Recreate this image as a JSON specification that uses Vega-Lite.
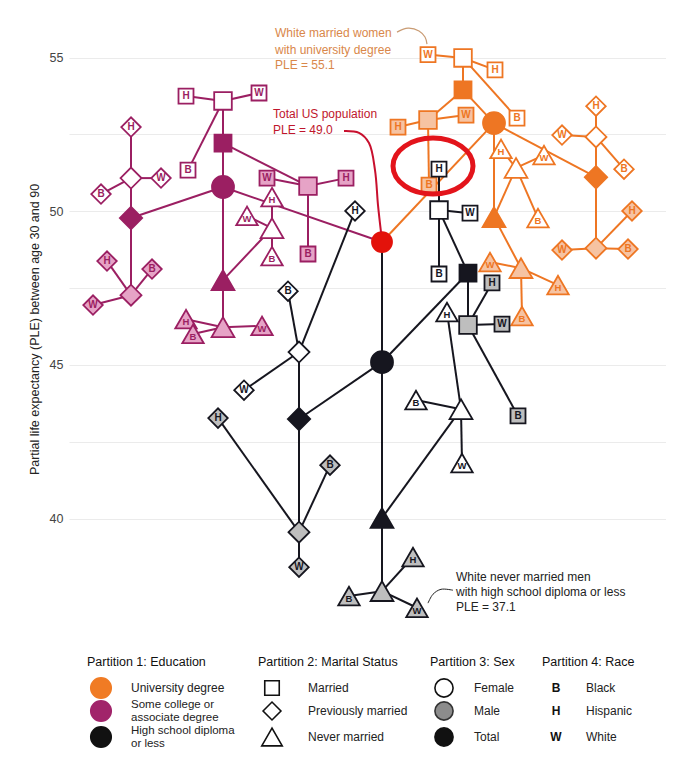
{
  "$schema": "https://vega.github.io/schema/vega-lite/v6.json",
  "padding": {"left": 28, "top": 10, "right": 0, "bottom": 0},
  "spacing": 0,
  "config": {"view": {"stroke": null}, "font": "Liberation Sans"},
  "resolve": {"scale": {"x": "independent", "y": "independent", "fill": "independent", "stroke": "independent", "shape": "independent", "size": "independent", "color": "independent"}},
  "datasets": {
    "nodes": [
      {"id": "R", "parent": null, "edu": "T", "marital": "none", "sex": "Total", "race": "", "level": 0, "x": 381, "ple": 49.0},
      {"id": "U", "parent": "R", "edu": "U", "marital": "none", "sex": "Total", "race": "", "level": 1, "x": 493, "ple": 52.87},
      {"id": "S", "parent": "R", "edu": "S", "marital": "none", "sex": "Total", "race": "", "level": 1, "x": 222, "ple": 50.79},
      {"id": "H", "parent": "R", "edu": "H", "marital": "none", "sex": "Total", "race": "", "level": 1, "x": 381, "ple": 45.09},
      {"id": "UM", "parent": "U", "edu": "U", "marital": "M", "sex": "Total", "race": "", "level": 2, "x": 462, "ple": 53.95},
      {"id": "UP", "parent": "U", "edu": "U", "marital": "P", "sex": "Total", "race": "", "level": 2, "x": 595, "ple": 51.11},
      {"id": "UN", "parent": "U", "edu": "U", "marital": "N", "sex": "Total", "race": "", "level": 2, "x": 493, "ple": 49.81},
      {"id": "SM", "parent": "S", "edu": "S", "marital": "M", "sex": "Total", "race": "", "level": 2, "x": 222, "ple": 52.22},
      {"id": "SP", "parent": "S", "edu": "S", "marital": "P", "sex": "Total", "race": "", "level": 2, "x": 130, "ple": 49.78},
      {"id": "SN", "parent": "S", "edu": "S", "marital": "N", "sex": "Total", "race": "", "level": 2, "x": 222, "ple": 47.76},
      {"id": "HM", "parent": "H", "edu": "H", "marital": "M", "sex": "Total", "race": "", "level": 2, "x": 467, "ple": 47.99},
      {"id": "HP", "parent": "H", "edu": "H", "marital": "P", "sex": "Total", "race": "", "level": 2, "x": 298, "ple": 43.24},
      {"id": "HN", "parent": "H", "edu": "H", "marital": "N", "sex": "Total", "race": "", "level": 2, "x": 381, "ple": 40.02},
      {"id": "UMF", "parent": "UM", "edu": "U", "marital": "M", "sex": "Female", "race": "", "level": 3, "x": 462, "ple": 54.99},
      {"id": "UMM", "parent": "UM", "edu": "U", "marital": "M", "sex": "Male", "race": "", "level": 3, "x": 427, "ple": 52.97},
      {"id": "UPF", "parent": "UP", "edu": "U", "marital": "P", "sex": "Female", "race": "", "level": 3, "x": 595, "ple": 52.42},
      {"id": "UPM", "parent": "UP", "edu": "U", "marital": "P", "sex": "Male", "race": "", "level": 3, "x": 595, "ple": 48.80},
      {"id": "UNF", "parent": "UN", "edu": "U", "marital": "N", "sex": "Female", "race": "", "level": 3, "x": 515, "ple": 51.41},
      {"id": "UNM", "parent": "UN", "edu": "U", "marital": "N", "sex": "Male", "race": "", "level": 3, "x": 520, "ple": 48.15},
      {"id": "SMF", "parent": "SM", "edu": "S", "marital": "M", "sex": "Female", "race": "", "level": 3, "x": 222, "ple": 53.59},
      {"id": "SMM", "parent": "SM", "edu": "S", "marital": "M", "sex": "Male", "race": "", "level": 3, "x": 307, "ple": 50.82},
      {"id": "SPF", "parent": "SP", "edu": "S", "marital": "P", "sex": "Female", "race": "", "level": 3, "x": 130, "ple": 51.08},
      {"id": "SPM", "parent": "SP", "edu": "S", "marital": "P", "sex": "Male", "race": "", "level": 3, "x": 130, "ple": 47.27},
      {"id": "SNF", "parent": "SN", "edu": "S", "marital": "N", "sex": "Female", "race": "", "level": 3, "x": 271, "ple": 49.45},
      {"id": "SNM", "parent": "SN", "edu": "S", "marital": "N", "sex": "Male", "race": "", "level": 3, "x": 222, "ple": 46.23},
      {"id": "HMF", "parent": "HM", "edu": "H", "marital": "M", "sex": "Female", "race": "", "level": 3, "x": 438, "ple": 50.04},
      {"id": "HMM", "parent": "HM", "edu": "H", "marital": "M", "sex": "Male", "race": "", "level": 3, "x": 467, "ple": 46.30},
      {"id": "HPF", "parent": "HP", "edu": "H", "marital": "P", "sex": "Female", "race": "", "level": 3, "x": 298, "ple": 45.42},
      {"id": "HPM", "parent": "HP", "edu": "H", "marital": "P", "sex": "Male", "race": "", "level": 3, "x": 298, "ple": 39.56},
      {"id": "HNF", "parent": "HN", "edu": "H", "marital": "N", "sex": "Female", "race": "", "level": 3, "x": 460, "ple": 43.56},
      {"id": "HNM", "parent": "HN", "edu": "H", "marital": "N", "sex": "Male", "race": "", "level": 3, "x": 381, "ple": 37.64},
      {"id": "UMFW", "parent": "UMF", "edu": "U", "marital": "M", "sex": "Female", "race": "W", "level": 4, "x": 427, "ple": 55.1},
      {"id": "UMFH", "parent": "UMF", "edu": "U", "marital": "M", "sex": "Female", "race": "H", "level": 4, "x": 494, "ple": 54.60},
      {"id": "UMFB", "parent": "UMF", "edu": "U", "marital": "M", "sex": "Female", "race": "B", "level": 4, "x": 516, "ple": 53.03},
      {"id": "UMMH", "parent": "UMM", "edu": "U", "marital": "M", "sex": "Male", "race": "H", "level": 4, "x": 397, "ple": 52.74},
      {"id": "UMMW", "parent": "UMM", "edu": "U", "marital": "M", "sex": "Male", "race": "W", "level": 4, "x": 465, "ple": 53.13},
      {"id": "UMMB", "parent": "UMM", "edu": "U", "marital": "M", "sex": "Male", "race": "B", "level": 4, "x": 428, "ple": 50.85},
      {"id": "UPFH", "parent": "UPF", "edu": "U", "marital": "P", "sex": "Female", "race": "H", "level": 4, "x": 595, "ple": 53.42},
      {"id": "UPFW", "parent": "UPF", "edu": "U", "marital": "P", "sex": "Female", "race": "W", "level": 4, "x": 561, "ple": 52.48},
      {"id": "UPFB", "parent": "UPF", "edu": "U", "marital": "P", "sex": "Female", "race": "B", "level": 4, "x": 623, "ple": 51.37},
      {"id": "UPMW", "parent": "UPM", "edu": "U", "marital": "P", "sex": "Male", "race": "W", "level": 4, "x": 561, "ple": 48.74},
      {"id": "UPMB", "parent": "UPM", "edu": "U", "marital": "P", "sex": "Male", "race": "B", "level": 4, "x": 627, "ple": 48.77},
      {"id": "UPMH", "parent": "UPM", "edu": "U", "marital": "P", "sex": "Male", "race": "H", "level": 4, "x": 631, "ple": 50.01},
      {"id": "UNFH", "parent": "UNF", "edu": "U", "marital": "N", "sex": "Female", "race": "H", "level": 4, "x": 500, "ple": 52.03},
      {"id": "UNFW", "parent": "UNF", "edu": "U", "marital": "N", "sex": "Female", "race": "W", "level": 4, "x": 543, "ple": 51.83},
      {"id": "UNFB", "parent": "UNF", "edu": "U", "marital": "N", "sex": "Female", "race": "B", "level": 4, "x": 537, "ple": 49.78},
      {"id": "UNMW", "parent": "UNM", "edu": "U", "marital": "N", "sex": "Male", "race": "W", "level": 4, "x": 489, "ple": 48.35},
      {"id": "UNMH", "parent": "UNM", "edu": "U", "marital": "N", "sex": "Male", "race": "H", "level": 4, "x": 557, "ple": 47.60},
      {"id": "UNMB", "parent": "UNM", "edu": "U", "marital": "N", "sex": "Male", "race": "B", "level": 4, "x": 521, "ple": 46.59},
      {"id": "SMFH", "parent": "SMF", "edu": "S", "marital": "M", "sex": "Female", "race": "H", "level": 4, "x": 185, "ple": 53.75},
      {"id": "SMFW", "parent": "SMF", "edu": "S", "marital": "M", "sex": "Female", "race": "W", "level": 4, "x": 258, "ple": 53.85},
      {"id": "SMFB", "parent": "SMF", "edu": "S", "marital": "M", "sex": "Female", "race": "B", "level": 4, "x": 187, "ple": 51.34},
      {"id": "SMMW", "parent": "SMM", "edu": "S", "marital": "M", "sex": "Male", "race": "W", "level": 4, "x": 266, "ple": 51.08},
      {"id": "SMMH", "parent": "SMM", "edu": "S", "marital": "M", "sex": "Male", "race": "H", "level": 4, "x": 345, "ple": 51.08},
      {"id": "SMMB", "parent": "SMM", "edu": "S", "marital": "M", "sex": "Male", "race": "B", "level": 4, "x": 307, "ple": 48.61},
      {"id": "SPFH", "parent": "SPF", "edu": "S", "marital": "P", "sex": "Female", "race": "H", "level": 4, "x": 130, "ple": 52.74},
      {"id": "SPFW", "parent": "SPF", "edu": "S", "marital": "P", "sex": "Female", "race": "W", "level": 4, "x": 160, "ple": 51.08},
      {"id": "SPFB", "parent": "SPF", "edu": "S", "marital": "P", "sex": "Female", "race": "B", "level": 4, "x": 100, "ple": 50.56},
      {"id": "SPMH", "parent": "SPM", "edu": "S", "marital": "P", "sex": "Male", "race": "H", "level": 4, "x": 106, "ple": 48.38},
      {"id": "SPMB", "parent": "SPM", "edu": "S", "marital": "P", "sex": "Male", "race": "B", "level": 4, "x": 151, "ple": 48.12},
      {"id": "SPMW", "parent": "SPM", "edu": "S", "marital": "P", "sex": "Male", "race": "W", "level": 4, "x": 92, "ple": 46.95},
      {"id": "SNFH", "parent": "SNF", "edu": "S", "marital": "N", "sex": "Female", "race": "H", "level": 4, "x": 271, "ple": 50.46},
      {"id": "SNFW", "parent": "SNF", "edu": "S", "marital": "N", "sex": "Female", "race": "W", "level": 4, "x": 246, "ple": 49.85},
      {"id": "SNFB", "parent": "SNF", "edu": "S", "marital": "N", "sex": "Female", "race": "B", "level": 4, "x": 271, "ple": 48.54},
      {"id": "SNMH", "parent": "SNM", "edu": "S", "marital": "N", "sex": "Male", "race": "H", "level": 4, "x": 185, "ple": 46.49},
      {"id": "SNMB", "parent": "SNM", "edu": "S", "marital": "N", "sex": "Male", "race": "B", "level": 4, "x": 192, "ple": 46.01},
      {"id": "SNMW", "parent": "SNM", "edu": "S", "marital": "N", "sex": "Male", "race": "W", "level": 4, "x": 261, "ple": 46.27},
      {"id": "HMFH", "parent": "HMF", "edu": "H", "marital": "M", "sex": "Female", "race": "H", "level": 4, "x": 438, "ple": 51.37},
      {"id": "HMFW", "parent": "HMF", "edu": "H", "marital": "M", "sex": "Female", "race": "W", "level": 4, "x": 469, "ple": 49.94},
      {"id": "HMFB", "parent": "HMF", "edu": "H", "marital": "M", "sex": "Female", "race": "B", "level": 4, "x": 438, "ple": 47.96},
      {"id": "HMMH", "parent": "HMM", "edu": "H", "marital": "M", "sex": "Male", "race": "H", "level": 4, "x": 491, "ple": 47.67},
      {"id": "HMMW", "parent": "HMM", "edu": "H", "marital": "M", "sex": "Male", "race": "W", "level": 4, "x": 501, "ple": 46.33},
      {"id": "HMMB", "parent": "HMM", "edu": "H", "marital": "M", "sex": "Male", "race": "B", "level": 4, "x": 517, "ple": 43.34},
      {"id": "HPFB", "parent": "HPF", "edu": "H", "marital": "P", "sex": "Female", "race": "B", "level": 4, "x": 287, "ple": 47.40},
      {"id": "HPFH", "parent": "HPF", "edu": "H", "marital": "P", "sex": "Female", "race": "H", "level": 4, "x": 354, "ple": 50.01},
      {"id": "HPFW", "parent": "HPF", "edu": "H", "marital": "P", "sex": "Female", "race": "W", "level": 4, "x": 243, "ple": 44.18},
      {"id": "HPMH", "parent": "HPM", "edu": "H", "marital": "P", "sex": "Male", "race": "H", "level": 4, "x": 217, "ple": 43.27},
      {"id": "HPMB", "parent": "HPM", "edu": "H", "marital": "P", "sex": "Male", "race": "B", "level": 4, "x": 329, "ple": 41.74},
      {"id": "HPMW", "parent": "HPM", "edu": "H", "marital": "P", "sex": "Male", "race": "W", "level": 4, "x": 298, "ple": 38.42},
      {"id": "HNFB", "parent": "HNF", "edu": "H", "marital": "N", "sex": "Female", "race": "B", "level": 4, "x": 415, "ple": 43.86},
      {"id": "HNFH", "parent": "HNF", "edu": "H", "marital": "N", "sex": "Female", "race": "H", "level": 4, "x": 446, "ple": 46.72},
      {"id": "HNFW", "parent": "HNF", "edu": "H", "marital": "N", "sex": "Female", "race": "W", "level": 4, "x": 461, "ple": 41.81},
      {"id": "HNMB", "parent": "HNM", "edu": "H", "marital": "N", "sex": "Male", "race": "B", "level": 4, "x": 348, "ple": 37.48},
      {"id": "HNMH", "parent": "HNM", "edu": "H", "marital": "N", "sex": "Male", "race": "H", "level": 4, "x": 412, "ple": 38.75},
      {"id": "HNMW", "parent": "HNM", "edu": "H", "marital": "N", "sex": "Male", "race": "W", "level": 4, "x": 416, "ple": 37.1}
    ],
    "notes": [
      {"who": "univ", "text": "White married women", "x": 274, "ple": 55.80},
      {"who": "univ", "text": "with university degree", "x": 274, "ple": 55.26},
      {"who": "univ", "text": "PLE = 55.1", "x": 274, "ple": 54.76},
      {"who": "total", "text": "Total US population", "x": 272, "ple": 53.15},
      {"who": "total", "text": "PLE = 49.0", "x": 272, "ple": 52.64},
      {"who": "hs", "text": "White never married men", "x": 455, "ple": 38.10},
      {"who": "hs", "text": "with high school diploma or less", "x": 455, "ple": 37.61},
      {"who": "hs", "text": "PLE = 37.1", "x": 455, "ple": 37.13}
    ],
    "curves": [
      {"who": "univ", "i": 0, "x": 396, "ple": 55.83},
      {"who": "univ", "i": 1, "x": 407, "ple": 55.96},
      {"who": "univ", "i": 2, "x": 418, "ple": 55.87},
      {"who": "univ", "i": 3, "x": 424, "ple": 55.67},
      {"who": "univ", "i": 4, "x": 426, "ple": 55.44},
      {"who": "total", "i": 0, "x": 343, "ple": 52.61},
      {"who": "total", "i": 1, "x": 358, "ple": 52.55},
      {"who": "total", "i": 2, "x": 368, "ple": 52.22},
      {"who": "total", "i": 3, "x": 374, "ple": 51.34},
      {"who": "total", "i": 4, "x": 377, "ple": 50.20},
      {"who": "total", "i": 5, "x": 380, "ple": 49.32},
      {"who": "hs", "i": 0, "x": 427, "ple": 37.25},
      {"who": "hs", "i": 1, "x": 432, "ple": 37.54},
      {"who": "hs", "i": 2, "x": 440, "ple": 37.70},
      {"who": "hs", "i": 3, "x": 452, "ple": 37.67}
    ],
    "legend": [
      {"kind": "title", "col": 1, "row": -1, "item": "", "label": "Partition 1: Education"},
      {"kind": "title", "col": 2, "row": -1, "item": "", "label": "Partition 2: Marital Status"},
      {"kind": "title", "col": 3, "row": -1, "item": "", "label": "Partition 3: Sex"},
      {"kind": "title", "col": 4, "row": -1, "item": "", "label": "Partition 4: Race"},
      {"kind": "sym", "col": 1, "row": 0, "item": "University", "label": "University degree"},
      {"kind": "sym", "col": 1, "row": 1, "item": "Some college", "label": "Some college or\nassociate degree"},
      {"kind": "sym", "col": 1, "row": 2, "item": "HS", "label": "High school diploma\nor less"},
      {"kind": "sym", "col": 2, "row": 0, "item": "Married", "label": "Married"},
      {"kind": "sym", "col": 2, "row": 1, "item": "Previously married", "label": "Previously married"},
      {"kind": "sym", "col": 2, "row": 2, "item": "Never married", "label": "Never married"},
      {"kind": "sym", "col": 3, "row": 0, "item": "Female", "label": "Female"},
      {"kind": "sym", "col": 3, "row": 1, "item": "Male", "label": "Male"},
      {"kind": "sym", "col": 3, "row": 2, "item": "Total", "label": "Total"},
      {"kind": "letter", "col": 4, "row": 0, "item": "B", "label": "Black"},
      {"kind": "letter", "col": 4, "row": 1, "item": "H", "label": "Hispanic"},
      {"kind": "letter", "col": 4, "row": 2, "item": "W", "label": "White"}
    ]
  },
  "vconcat": [
    {
      "width": 597,
      "height": 638,
      "encoding": {
        "x": {"field": "x", "type": "quantitative", "scale": {"domain": [68, 665], "zero": false, "nice": false}, "axis": null},
        "y": {"field": "ple", "type": "quantitative", "scale": {"domain": [35.79, 56.55], "zero": false, "nice": false},
          "axis": {"title": "Partial life expectancy (PLE) between age 30 and 90", "values": [40, 42.5, 45, 47.5, 50, 52.5, 55],
            "labelExpr": "datum.value % 5 === 0 ? '' + datum.value : ''", "ticks": false, "domain": false,
            "gridColor": "#EBEBEB", "gridWidth": 1, "labelFontSize": 12.5, "labelColor": "#444", "labelPadding": 6,
            "titleFontSize": 12.5, "titleColor": "#222", "titleFontWeight": "normal", "titlePadding": 8}}
      },
      "layer": [
        {
          "data": {"name": "nodes"},
          "transform": [
            {"filter": "datum.parent != null"},
            {"lookup": "parent", "from": {"data": {"name": "nodes"}, "key": "id", "fields": ["x", "ple"]}, "as": ["px", "pple"]}
          ],
          "mark": {"type": "rule", "strokeWidth": 2},
          "encoding": {
            "x2": {"field": "px"},
            "y2": {"field": "pple"},
            "stroke": {"field": "edu", "type": "nominal", "legend": null,
              "scale": {"domain": ["T", "U", "S", "H"], "range": ["#E3120B", "#EE7623", "#9B1F62", "#16161F"]}}
          }
        },
        {
          "data": {"name": "nodes"},
          "transform": [
            {"calculate": "datum.level == 0 ? 'root' : (datum.sex == 'Total' ? datum.edu + '-solid' : datum.edu + '-' + datum.sex)", "as": "fillKey"},
            {"calculate": "datum.level == 0 ? 'root' : (datum.level == 1 ? 'edu' : datum.level + datum.marital)", "as": "sizeKey"}
          ],
          "mark": {"type": "point", "filled": true, "opacity": 1, "strokeWidth": 1.8},
          "encoding": {
            "shape": {"field": "marital", "type": "nominal", "legend": null,
              "scale": {"domain": ["none", "M", "P", "N"], "range": ["circle", "square", "diamond", "triangle-up"]}},
            "fill": {"field": "fillKey", "type": "nominal", "legend": null,
              "scale": {"domain": ["root", "U-solid", "U-Female", "U-Male", "S-solid", "S-Female", "S-Male", "H-solid", "H-Female", "H-Male"],
                "range": ["#E3120B", "#EE7623", "#FFFFFF", "#F6C3A2", "#9B1F62", "#FFFFFF", "#E6A3C6", "#16161F", "#FFFFFF", "#BEBEBE"]}},
            "stroke": {"field": "edu", "type": "nominal", "legend": null},
            "size": {"field": "sizeKey", "type": "nominal", "legend": null,
              "scale": {"type": "ordinal", "domain": ["root", "edu", "2M", "2P", "2N", "3M", "3P", "3N", "4M", "4P", "4N"],
                "range": [400, 484, 289, 500, 520, 310, 440, 520, 225, 380, 460]}}
          }
        },
        {
          "data": {"name": "nodes"},
          "transform": [{"filter": "datum.level == 4 && datum.marital != 'N'"}],
          "mark": {"type": "text", "fontSize": 10, "fontWeight": "bold", "baseline": "middle", "align": "center"},
          "encoding": {
            "text": {"field": "race"},
            "color": {"field": "edu", "type": "nominal", "legend": null,
              "scale": {"domain": ["T", "U", "S", "H"], "range": ["#E3120B", "#EE7623", "#9B1F62", "#16161F"]}}
          }
        },
        {
          "data": {"name": "nodes"},
          "transform": [{"filter": "datum.level == 4 && datum.marital == 'N'"}],
          "mark": {"type": "text", "fontSize": 9.5, "fontWeight": "bold", "baseline": "middle", "align": "center", "dy": 3},
          "encoding": {
            "text": {"field": "race"},
            "color": {"field": "edu", "type": "nominal", "legend": null}
          }
        },
        {
          "data": {"values": [{"x": 432, "ple": 51.47}]},
          "mark": {"type": "point", "filled": false, "opacity": 1, "stroke": "#E3141B", "strokeWidth": 5, "size": 6400,
            "shape": "M1,0C1,0.3866,0.5523,0.7,0,0.7C-0.5523,0.7,-1,0.3866,-1,0C-1,-0.3866,-0.5523,-0.7,0,-0.7C0.5523,-0.7,1,-0.3866,1,0Z"}
        },
        {
          "data": {"name": "curves"},
          "transform": [{"filter": "datum.who == 'univ'"}],
          "mark": {"type": "line", "interpolate": "catmull-rom", "stroke": "#C99B73", "strokeWidth": 1.2},
          "encoding": {"order": {"field": "i", "type": "quantitative"}}
        },
        {
          "data": {"name": "curves"},
          "transform": [{"filter": "datum.who == 'total'"}],
          "mark": {"type": "line", "interpolate": "catmull-rom", "stroke": "#C8102E", "strokeWidth": 2},
          "encoding": {"order": {"field": "i", "type": "quantitative"}}
        },
        {
          "data": {"name": "curves"},
          "transform": [{"filter": "datum.who == 'hs'"}],
          "mark": {"type": "line", "interpolate": "catmull-rom", "stroke": "#222222", "strokeWidth": 1},
          "encoding": {"order": {"field": "i", "type": "quantitative"}}
        },
        {
          "data": {"name": "notes"},
          "transform": [{"filter": "datum.who == 'univ'"}],
          "mark": {"type": "text", "align": "left", "baseline": "middle", "fontSize": 12, "fill": "#D9874A"},
          "encoding": {"text": {"field": "text"}}
        },
        {
          "data": {"name": "notes"},
          "transform": [{"filter": "datum.who == 'total'"}],
          "mark": {"type": "text", "align": "left", "baseline": "middle", "fontSize": 12, "fill": "#C0162C"},
          "encoding": {"text": {"field": "text"}}
        },
        {
          "data": {"name": "notes"},
          "transform": [{"filter": "datum.who == 'hs'"}],
          "mark": {"type": "text", "align": "left", "baseline": "middle", "fontSize": 12, "fill": "#222222"},
          "encoding": {"text": {"field": "text"}}
        }
      ]
    },
    {
      "width": 597,
      "height": 132,
      "data": {"name": "legend"},
      "encoding": {
        "x": {"field": "col", "type": "quantitative", "scale": {"type": "linear", "domain": [1, 2, 3, 4], "range": [32, 203, 375, 487]}, "axis": null},
        "y": {"field": "row", "type": "quantitative", "scale": {"type": "linear", "domain": [-1, 0, 1, 2], "range": [14, 40, 63, 89]}, "axis": null}
      },
      "layer": [
        {
          "transform": [{"filter": "datum.kind == 'title'"}],
          "mark": {"type": "text", "align": "left", "baseline": "middle", "fontSize": 12.5, "dx": -14, "fill": "#111"},
          "encoding": {"text": {"field": "label"}}
        },
        {
          "transform": [{"filter": "datum.kind == 'sym'"}],
          "mark": {"type": "point", "filled": true, "opacity": 1, "strokeWidth": 1.6},
          "encoding": {
            "shape": {"field": "item", "type": "nominal", "legend": null,
              "scale": {"domain": ["University", "Some college", "HS", "Married", "Previously married", "Never married", "Female", "Male", "Total"],
                "range": ["circle", "circle", "circle", "square", "diamond", "triangle-up", "circle", "circle", "circle"]}},
            "fill": {"field": "item", "type": "nominal", "legend": null,
              "scale": {"domain": ["University", "Some college", "HS", "Married", "Previously married", "Never married", "Female", "Male", "Total"],
                "range": ["#F07B24", "#A1246A", "#111111", "#FFFFFF", "#FFFFFF", "#FFFFFF", "#FFFFFF", "#8C8C8C", "#111111"]}},
            "stroke": {"field": "item", "type": "nominal", "legend": null,
              "scale": {"domain": ["University", "Some college", "HS", "Married", "Previously married", "Never married", "Female", "Male", "Total"],
                "range": ["#F07B24", "#A1246A", "#111111", "#111111", "#111111", "#111111", "#111111", "#333333", "#111111"]}},
            "size": {"field": "item", "type": "nominal", "legend": null,
              "scale": {"type": "ordinal", "domain": ["University", "Some college", "HS", "Married", "Previously married", "Never married", "Female", "Male", "Total"],
                "range": [420, 420, 420, 210, 320, 420, 330, 330, 330]}}
          }
        },
        {
          "transform": [{"filter": "datum.kind == 'letter'"}],
          "mark": {"type": "text", "align": "center", "baseline": "middle", "fontSize": 12, "fontWeight": "bold", "fill": "#111"},
          "encoding": {"text": {"field": "item"}}
        },
        {
          "transform": [{"filter": "datum.kind != 'title' && datum.col != 2 && !(datum.col == 1 && datum.row >= 1)"}],
          "mark": {"type": "text", "align": "left", "baseline": "middle", "fontSize": 12, "dx": 30, "fill": "#222"},
          "encoding": {"text": {"field": "label"}}
        },
        {
          "transform": [{"filter": "datum.col == 1 && datum.row >= 1"}],
          "mark": {"type": "text", "align": "left", "baseline": "middle", "fontSize": 11.5, "dx": 30, "dy": -6.5, "lineBreak": "\n", "lineHeight": 13, "fill": "#222"},
          "encoding": {"text": {"field": "label"}}
        },
        {
          "transform": [{"filter": "datum.kind != 'title' && datum.col == 2"}],
          "mark": {"type": "text", "align": "left", "baseline": "middle", "fontSize": 12, "dx": 36, "fill": "#222"},
          "encoding": {"text": {"field": "label"}}
        }
      ]
    }
  ]
}
